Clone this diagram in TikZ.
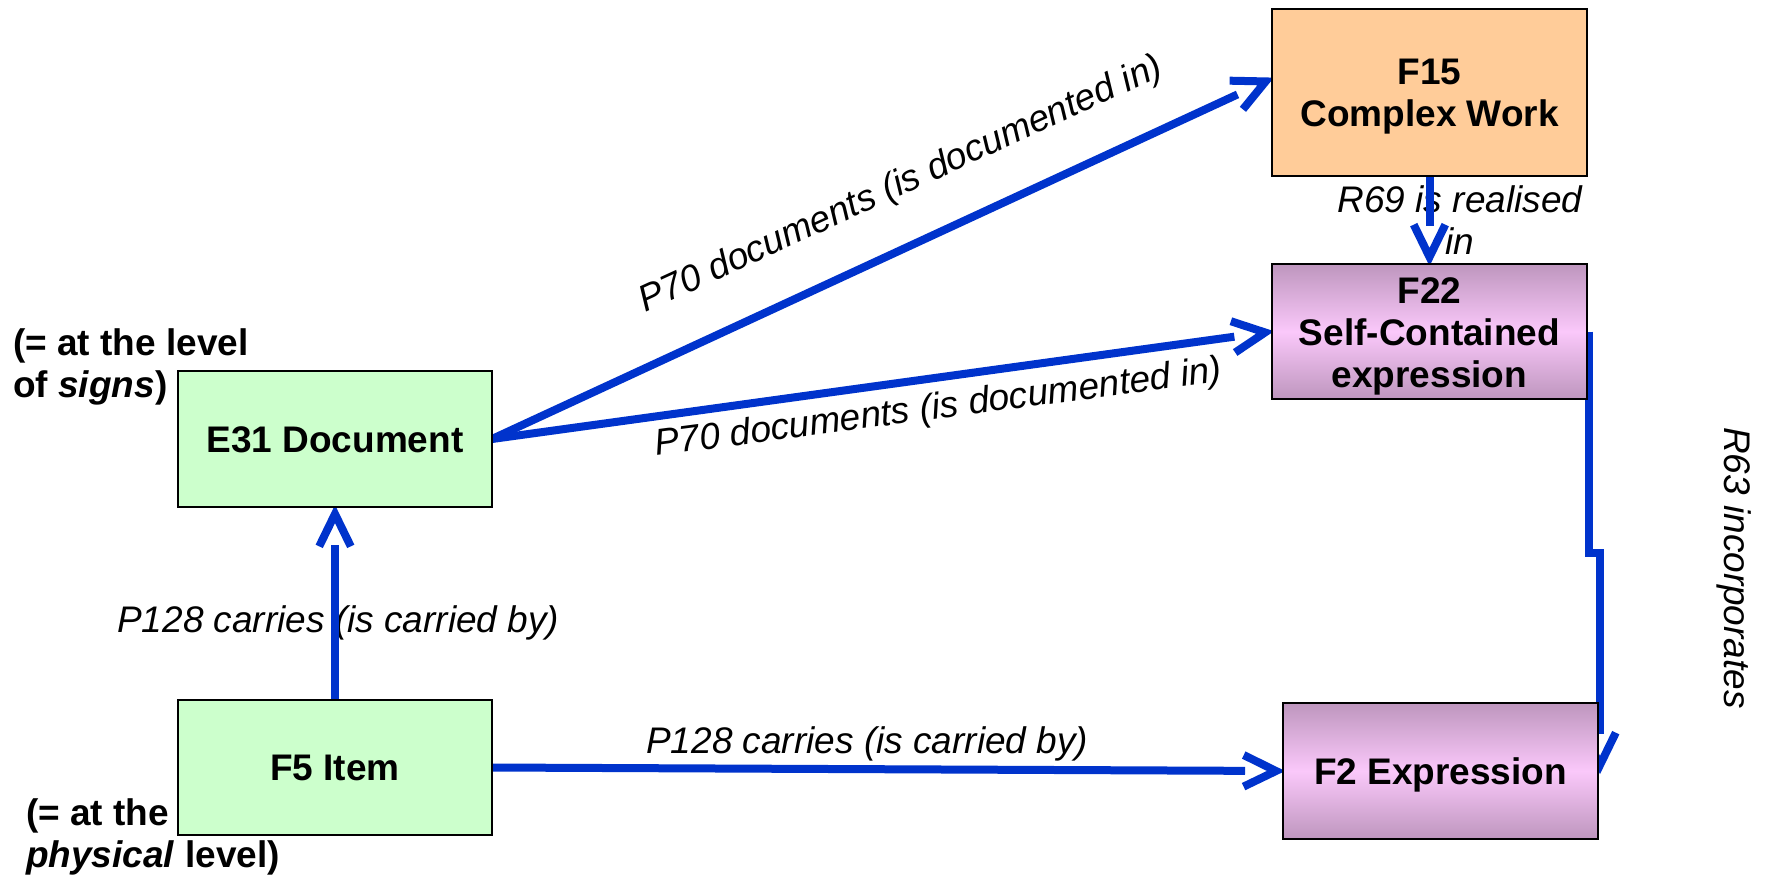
\documentclass[tikz,border=0pt]{standalone}
\usepackage{fontspec}
\setmainfont{Liberation Sans}
\usetikzlibrary{calc}
\pgfdeclarelayer{labels}
\pgfdeclarelayer{links}
\pgfsetlayers{labels,links,main}
\definecolor{linkblue}{RGB}{0,51,204}
\definecolor{greenfill}{RGB}{204,255,204}
\definecolor{orangefill}{RGB}{255,204,153}
\definecolor{mauvedark}{RGB}{190,150,190}
\definecolor{mauvelight}{RGB}{250,200,250}
\tikzset{
  box/.style={draw=black, line width=2.8pt, inner sep=0pt, outer sep=0pt,
    minimum width=315pt, minimum height=135pt, align=center,
    text height=26.5pt, text depth=0pt,
    font=\fontsize{37}{42}\selectfont\bfseries},
  greenbox/.style={box, fill=greenfill},
  orangebox/.style={box, fill=orangefill},
  mauvebox/.style={box, top color=mauvedark, bottom color=mauvedark, middle color=mauvelight},
  conn/.style={draw=linkblue, line width=8pt, line cap=butt},
  lbl/.style={inner sep=0pt, font=\fontsize{37}{42}\selectfont\itshape},
  note/.style={inner sep=0pt, font=\fontsize{37}{42}\selectfont\bfseries},
}
\newcommand\arrowlink[2]{%
  \coordinate (tip) at ($(#2)!7pt!(#1)$);
  \draw[conn] (#1) -- ($(tip)!31pt!(#1)$);
  \draw[conn, line join=miter] ($(tip)!36pt!26:(#1)$) -- (tip) -- ($(tip)!36pt!-26:(#1)$);}
\begin{document}
\begin{tikzpicture}[x=1pt, y=-1pt]
\useasboundingbox (0,0) rectangle (1770,879);

% boxes
\node[orangebox, minimum height=167pt, text height=30pt, text depth=47pt] (F15) at (1429.5,92.5)
  {\begin{tabular}[t]{@{}c@{}}F15\\Complex Work\end{tabular}};
\node[mauvebox, text height=30pt, text depth=87pt] (F22) at (1429.5,331.5)
  {\begin{tabular}[t]{@{}c@{}}F22\\Self-Contained\\expression\end{tabular}};
\node[mauvebox, minimum height=136pt] (F2) at (1440.5,771) {F2 Expression};
\node[greenbox, minimum width=314pt, minimum height=136pt] (E31) at (335,439) {E31 Document};
\node[greenbox, minimum width=314pt] (F5) at (335,767.5) {F5 Item};

% notes
\node[note, anchor=base west] (signs) at (13,355)
  {\begin{tabular}[t]{@{}l@{}}(= at the level\\of \textit{signs})\end{tabular}};
\node[note, anchor=base west] (phys) at (26,825)
  {\begin{tabular}[t]{@{}l@{}}(= at the\\\textit{physical} level)\end{tabular}};

% labels
\begin{pgfonlayer}{labels}
\node[lbl, anchor=base west, rotate=24.6] (p70a) at (645,313) {P70 documents (is documented in)};
\node[lbl, anchor=base west, rotate=7.5] (p70b) at (656,456) {P70 documents (is documented in)};
\node[lbl, anchor=base west] (p128a) at (117,632) {P128 carries (is carried by)};
\node[lbl, anchor=base west] (p128b) at (646,753) {P128 carries (is carried by)};
\node[lbl, anchor=base] (r69) at (1460,212)
  {\begin{tabular}[t]{@{}c@{}}R69 is realised\\in\end{tabular}};
\node[lbl, anchor=base, rotate=-90] (r63) at (1724,568) {R63 incorporates};
\end{pgfonlayer}

% connectors
\begin{pgfonlayer}{links}
\coordinate (F15in) at ($(F15.west)+(0,-14)$);
\arrowlink{E31.east}{F15in}
\arrowlink{E31.east}{F22.west}
\arrowlink{F15.south}{F22.north}
\arrowlink{F5.north}{E31.south}
\arrowlink{F5.east}{F2.west}
\coordinate (r63s) at ($(F22.east)+(2,0)$);
\coordinate (r63t) at ($(F2.east)+(2,-6)$);
\coordinate (r63up) at ($(r63t)+(0,-100)$);
\draw[conn, line join=miter] (r63s) -- ++(0,221.5) -| ($(r63t)+(0,-31)$);
\draw[conn, line join=miter] ($(r63t)!36pt!26:(r63up)$) -- (r63t) -- ($(r63t)!36pt!-26:(r63up)$);
\end{pgfonlayer}
\end{tikzpicture}
\end{document}
